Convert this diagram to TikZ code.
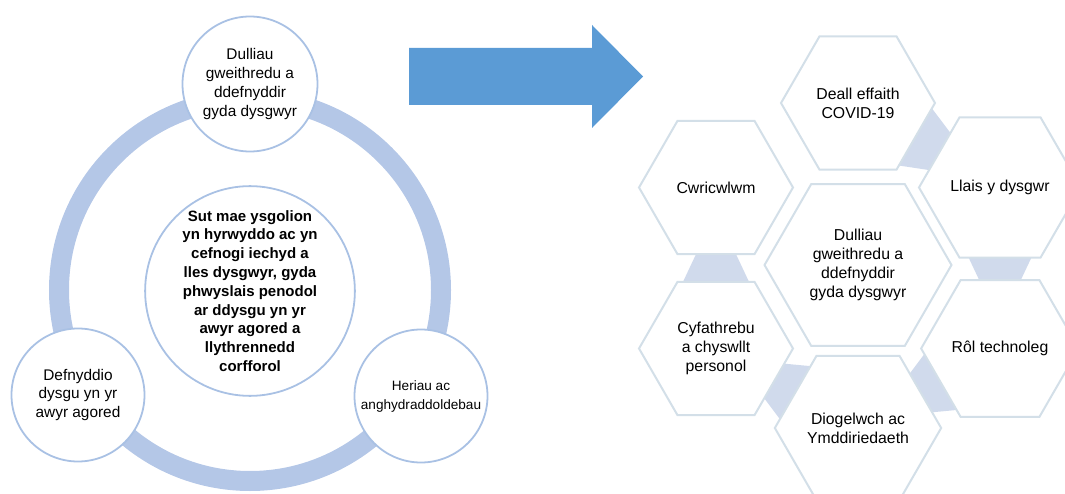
\documentclass[tikz,border=0pt]{standalone}
\usepackage{fontspec}
\setmainfont{Liberation Sans}
\usetikzlibrary{calc,shapes.geometric}
\definecolor{ringblue}{HTML}{B4C7E7}
\definecolor{circblue}{HTML}{A9C1E4}
\definecolor{arrowblue}{HTML}{5B9BD5}
\definecolor{hexline}{HTML}{D3DFE8}
\definecolor{linkfill}{HTML}{D0DAEC}

\begin{document}
\begin{tikzpicture}[x=1pt,y=-1pt,
    every node/.style={align=center,inner sep=0pt,font=\fontsize{15.4}{18.8}\selectfont},
    circ/.style={circle,draw=circblue,line width=1.8pt,fill=white,minimum size=#1},
    hex/.style={regular polygon,regular polygon sides=6,draw=hexline,line width=2pt,fill=white,
      minimum size=#1,font=\fontsize{15.8}{19}\selectfont}]
  \useasboundingbox (0,0) rectangle (1065,494);

  \draw[ringblue,line width=20pt] (250,290) circle[radius=191];
  \node[circ=208pt,font=\bfseries\fontsize{15}{18.8}\selectfont] (core) at (250,291)
    {Sut mae ysgolion\\yn hyrwyddo ac yn\\cefnogi iechyd a\\lles dysgwyr, gyda\\phwyslais penodol\\ar ddysgu yn yr\\awyr agored a\\llythrennedd\\corfforol};
  \node[circ=135pt] (ways) at (250,84) {Dulliau\\gweithredu a\\ddefnyddir\\gyda dysgwyr};
  \node[circ=133pt] (outdoor) at (78,395) {Defnyddio\\dysgu yn yr\\awyr agored};
  \node[circ=133pt,font=\fontsize{13.6}{19}\selectfont] (gaps) at (421,396) {Heriau ac\\anghydraddoldebau};

  \fill[arrowblue] (409,48) -- (592,48) -- (592,25) -- (643,76.5) -- (592,128) -- (592,105) -- (409,105) -- cycle;

  \coordinate (covid) at (858,103);
  \coordinate (voice) at (1000,187.5);
  \coordinate (tech) at (1000,348.5);
  \coordinate (safety) at (858,428);
  \coordinate (comms) at (716,348.5);
  \coordinate (curric) at (716,187.5);
  \foreach \from/\to in {covid/voice,voice/tech,tech/safety,safety/comms,comms/curric}
    \fill[linkfill] ($(\from)!66.7pt!(\to)!33pt!90:(\to)$) -- ($(\from)!66.7pt!(\to)!33pt!-90:(\to)$)
      -- ($(\to)!66.7pt!(\from)!20pt!90:(\from)$) -- ($(\to)!66.7pt!(\from)!20pt!-90:(\from)$) -- cycle;

  \node[hex=187pt] (hub) at (858,265) {Dulliau\\gweithredu a\\ddefnyddir\\gyda dysgwyr};
  \node[hex=154pt] (covidhex) at (covid) {Deall effaith\\COVID-19};
  \node[hex=154pt] (voicehex) at (voice) {Llais y dysgwr};
  \node[hex=154pt] (techhex) at (tech) {Rôl technoleg};
  \node[hex=154pt] (safetyhex) at (safety) {Diogelwch ac\\Ymddiriedaeth};
  \node[hex=154pt] (commshex) at (comms) {Cyfathrebu\\a chyswllt\\personol};
  \node[hex=154pt] (currichex) at (curric) {Cwricwlwm};
\end{tikzpicture}
\end{document}
